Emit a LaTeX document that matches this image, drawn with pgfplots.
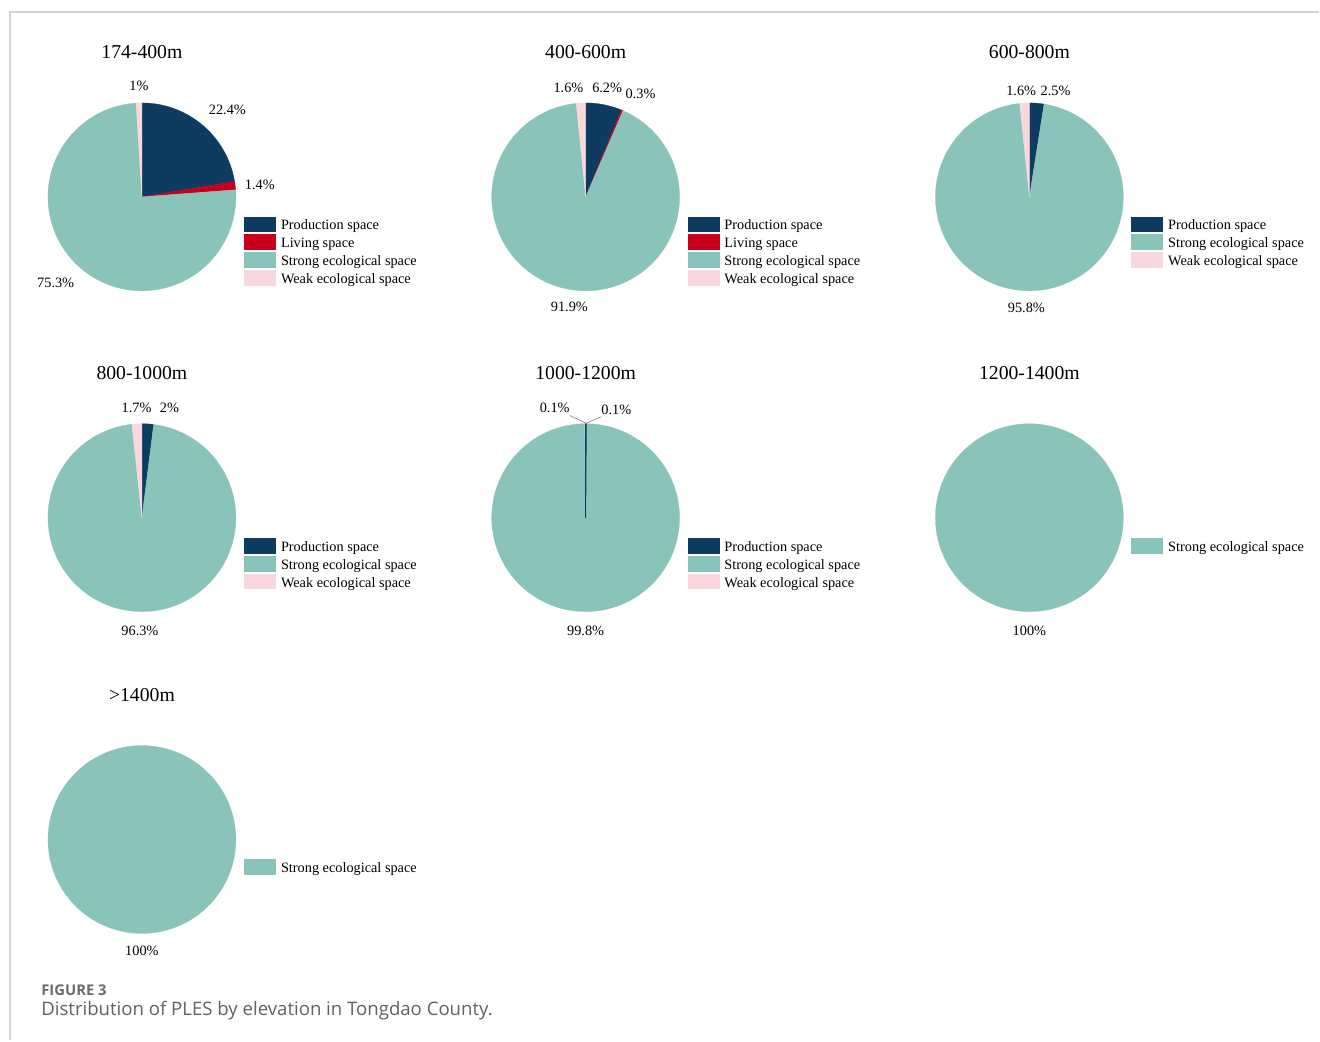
\documentclass[border=0pt]{standalone}
\usepackage{fontspec}
\setmainfont{Liberation Serif}
\newfontfamily\capfont{Open Sans}
\usepackage{pgfplots}
\pgfplotsset{compat=1.18}
\definecolor{prodc}{RGB}{14,60,96}
\definecolor{livc}{RGB}{200,0,30}
\definecolor{strc}{RGB}{138,195,186}
\definecolor{weakc}{RGB}{249,216,221}
\definecolor{framec}{RGB}{212,212,212}
\newcommand{\titfont}{\fontsize{9.85}{11}\selectfont}
\newcommand{\pctfont}{\fontsize{7.15}{8.5}\selectfont}
\newcommand{\legfont}{\fontsize{7.15}{8.5}\selectfont}
% slice: [edge width] center x, center y, start (%), size (%), colour
\newcommand{\slice}[6][0.15pt]{%
  \addplot[fill=#6, draw=#6, line width=#1, line join=round, domain=#4:#4+#5, samples=120, variable=\t]
    ({#2+94*sin(3.6*\t)},{#3-94*cos(3.6*\t)}) -- (axis cs:#2,#3) -- cycle;}
\newcommand{\legrow}[4]{%
  \fill[#3] (axis cs:#1,#2-7.8) rectangle (axis cs:#1+32,#2+7.8);
  \node[anchor=base west, font=\legfont, inner sep=0] at (axis cs:#1+36.5,#2+5.5) {#4};}
\newcommand{\pct}[3]{\node[font=\pctfont, inner sep=0] at (axis cs:#1,#2) {#3};}
\newcommand{\ptitle}[3]{\node[font=\titfont, inner sep=0] at (axis cs:#1,#2) {#3};}
\begin{document}
\begin{tikzpicture}
\begin{axis}[
  scale only axis, width=660pt, height=520.5pt,
  xmin=0, xmax=1320, ymin=0, ymax=1041, y dir=reverse,
  hide axis, clip=false, no markers]
\path (axis cs:0,0) rectangle (axis cs:1320,1041);
% frame lines
\draw[framec, line width=0.8pt] (axis cs:10,1041) -- (axis cs:10,12) -- (axis cs:1320,12);
% ---------- 174-400m ----------
\slice{142}{197}{0}{22.4}{prodc}
\slice{142}{197}{22.4}{1.4}{livc}
\slice{142}{197}{23.8}{75.3}{strc}
\slice{142}{197}{99.0}{1.0}{weakc}
\ptitle{142}{52}{174-400m}
\pct{139}{86}{1\%}
\pct{227.5}{110}{22.4\%}
\pct{260}{185}{1.4\%}
\pct{55.7}{283.3}{75.3\%}
\legrow{244.3}{224.5}{prodc}{Production space}
\legrow{244.3}{242.3}{livc}{Living space}
\legrow{244.3}{260.1}{strc}{Strong ecological space}
\legrow{244.3}{277.9}{weakc}{Weak ecological space}
% ---------- 400-600m ----------
\slice{586}{197}{0}{6.2}{prodc}
\slice{586}{197}{6.2}{0.3}{livc}
\slice{586}{197}{6.5}{91.9}{strc}
\slice{586}{197}{98.4}{1.6}{weakc}
\ptitle{586}{52}{400-600m}
\pct{568.8}{88.3}{1.6\%}
\pct{607.5}{88.3}{6.2\%}
\pct{641}{94.3}{0.3\%}
\pct{569.7}{306.7}{91.9\%}
\legrow{688}{224.5}{prodc}{Production space}
\legrow{688}{242.3}{livc}{Living space}
\legrow{688}{260.1}{strc}{Strong ecological space}
\legrow{688}{277.9}{weakc}{Weak ecological space}
% ---------- 600-800m ----------
\slice{1030}{197}{0}{2.5}{prodc}
\slice{1030}{197}{2.5}{95.8}{strc}
\slice{1030}{197}{98.4}{1.6}{weakc}
\ptitle{1030}{52}{600-800m}
\pct{1021.8}{91}{1.6\%}
\pct{1056.2}{91}{2.5\%}
\pct{1027}{308}{95.8\%}
\legrow{1132}{224.5}{prodc}{Production space}
\legrow{1132}{242.3}{strc}{Strong ecological space}
\legrow{1132}{260.1}{weakc}{Weak ecological space}
% ---------- 800-1000m ----------
\slice{142}{518}{0}{2.0}{prodc}
\slice{142}{518}{2.0}{96.3}{strc}
\slice{142}{518}{98.3}{1.7}{weakc}
\ptitle{142}{373.7}{800-1000m}
\pct{136.7}{408.3}{1.7\%}
\pct{169.5}{408.3}{2\%}
\pct{140}{630.8}{96.3\%}
\legrow{244.3}{546.2}{prodc}{Production space}
\legrow{244.3}{564.1}{strc}{Strong ecological space}
\legrow{244.3}{582}{weakc}{Weak ecological space}
% ---------- 1000-1200m ----------
\slice{586}{518}{0.1}{99.8}{strc}
\slice[0.4pt]{586}{518}{99.9}{0.1}{weakc}
\slice[0.45pt]{586}{518}{0}{0.1}{prodc}
\ptitle{586}{373.7}{1000-1200m}
\draw[gray, line width=0.3pt] (axis cs:570,415.7) -- (axis cs:586.5,423.5) -- (axis cs:601.7,417);
\pct{555}{408.3}{0.1\%}
\pct{616.7}{410}{0.1\%}
\pct{586}{630.8}{99.8\%}
\legrow{688}{546.2}{prodc}{Production space}
\legrow{688}{564.1}{strc}{Strong ecological space}
\legrow{688}{582}{weakc}{Weak ecological space}
% ---------- 1200-1400m ----------
\slice{1030}{518}{0}{100}{strc}
\ptitle{1030}{373.7}{1200-1400m}
\pct{1030}{630.8}{100\%}
\legrow{1132}{546.2}{strc}{Strong ecological space}
% ---------- >1400m ----------
\slice{142}{840}{0}{100}{strc}
\ptitle{142}{695}{>1400m}
\pct{142}{951.5}{100\%}
\legrow{244.3}{867.8}{strc}{Strong ecological space}
% caption
\node[anchor=base west, inner sep=0, font=\capfont\bfseries\fontsize{7.4}{9}\selectfont, text=black!58] at (axis cs:41,996) {FIGURE 3};
\node[anchor=base west, inner sep=0, font=\capfont\fontsize{9.3}{11}\selectfont, text=black!62] at (axis cs:41,1016) {Distribution of PLES by elevation in Tongdao County.};
\end{axis}
\end{tikzpicture}
\end{document}
